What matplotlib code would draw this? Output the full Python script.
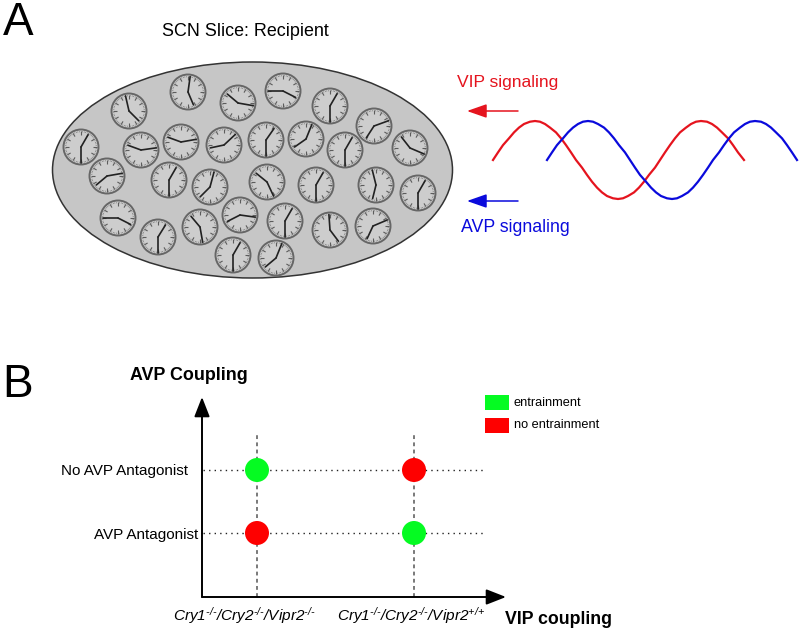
import matplotlib
matplotlib.use("Agg")
import matplotlib.pyplot as plt
import numpy as np
from matplotlib.collections import LineCollection
from matplotlib.patches import Circle, Ellipse, Rectangle
from matplotlib.transforms import ScaledTranslation

plt.rcParams["font.family"] = ["Liberation Sans", "DejaVu Sans"]
plt.rcParams["mathtext.fontset"] = "custom"
plt.rcParams["mathtext.rm"] = "Liberation Sans:italic"
plt.rcParams["mathtext.it"] = "Liberation Sans:italic"
plt.rcParams["mathtext.bf"] = "Liberation Sans:bold"

# clocks, in pixels of the picture, hands in degrees clockwise from 12
clock_x = [188, 129, 238, 81, 141, 181, 224, 107, 169, 210,
           283, 330, 374, 266, 306, 345, 410, 267, 316, 376, 418,
           118, 158, 200, 240, 285, 330, 373, 233, 276]
clock_y = [92, 111, 103, 147, 150, 142, 145, 176, 180, 187,
           91, 106, 126, 140, 139, 150, 148, 182, 185, 185, 193,
           218, 237, 227, 215, 221, 230, 226, 255, 258]
hand_a = [157, 135, 310, 30, 290, 290, 258, 230, 30, 225,
          117, 30, 213, 35, 235, 30, 322, 309, 30, 194, 30,
          117, 32, 320, 243, 30, 143, 205, 30, 230]
hand_b = [8, 347, 100, 180, 82, 80, 47, 80, 180, 15,
          270, 180, 70, 180, 22, 180, 113, 155, 180, 346, 180,
          270, 180, 170, 98, 180, 356, 67, 180, 22]

# signal curves
red_x = [493, 498, 503, 509, 514, 519, 524, 530, 535, 540, 545, 550, 556, 561, 566, 571, 576,
         582, 587, 592, 597, 602, 607, 613, 618, 623, 628, 634, 639, 644, 649, 655, 660,
         665, 670, 675, 680, 686, 691, 696, 701, 707, 712, 717, 722, 728, 733, 738, 744]
blue_x = [547, 552, 557, 563, 568, 573, 578, 583, 588, 593, 598, 604, 609, 614, 619, 625, 630,
          635, 640, 646, 651, 656, 661, 667, 672, 677, 682, 688, 693, 698, 703, 708, 713,
          719, 724, 729, 734, 740, 745, 750, 755, 761, 766, 771, 776, 782, 787, 792, 797]
wave_y = [160, 152.4, 145.1, 138.3, 132.4, 127.6, 124, 121.7, 121, 121.7, 124, 127.6, 132.4, 138.3, 145.1, 152.4, 160,
          167.6, 174.9, 181.7, 187.6, 192.4, 196, 198.3, 199, 198.3, 196, 192.4, 187.6, 181.7, 174.9, 167.6, 160,
          152.4, 145.1, 138.3, 132.4, 127.6, 124, 121.7, 121, 121.7, 124, 127.6, 132.4, 138.3, 145.1, 152.4, 160]

# panel B
genotypes = [r"$\mathit{Cry1}^{\text{-/-}}\mathit{/Cry2}^{\text{-/-}}\mathit{/Vipr2}^{\text{-/-}}$",
             r"$\mathit{Cry1}^{\text{-/-}}\mathit{/Cry2}^{\text{-/-}}\mathit{/Vipr2}^{\text{+/+}}$"]
conditions = ["AVP Antagonist", "No AVP Antagonist"]
point_x = [0, 1, 0, 1]
point_y = [1, 1, 0, 0]
entrained = [True, False, False, True]

GREEN = "#05fb22"
RED = "#fe0000"
RED_LINE = "#e5141e"
BLUE_LINE = "#0a0adc"

fig = plt.figure(figsize=(8, 6.3), dpi=100)

bg = fig.add_axes([0, 0, 1, 1])
bg.set_xlim(0, 800)
bg.set_ylim(630, 0)
bg.axis("off")

bg.text(3, 35, "A", fontsize=33, va="baseline")
bg.text(2, 397, "B", fontsize=33, va="baseline")
bg.text(245.5, 32, "SCN Slice: Recipient", fontsize=12.85, ha="center", va="center")

bg.add_patch(Ellipse((252.5, 170), 400, 216, fc="#c6c6c6", ec="#333333", lw=1.1))

# clock faces
theta = np.deg2rad(np.arange(0, 360, 6))
for cx, cy, a, b in zip(clock_x, clock_y, hand_a, hand_b):
    bg.add_patch(Circle((cx, cy), 17.5, fc="#cdcdcd", ec="#666666", lw=1.4, zorder=3))
    segs = []
    widths = []
    for i, t in enumerate(theta):
        r0 = 12 if i % 5 == 0 else 14.8
        r1 = 15.8
        segs.append([(cx + r0 * np.sin(t), cy - r0 * np.cos(t)),
                     (cx + r1 * np.sin(t), cy - r1 * np.cos(t))])
        widths.append(0.8 if i % 5 == 0 else 0.4)
    bg.add_collection(LineCollection(segs, colors="#5c5c5c", linewidths=widths, zorder=4))
    for ang, length, lw in [(a, 14, 1.2), (b, 15.5, 1.2)]:
        rad = np.deg2rad(ang)
        bg.plot([cx, cx + length * np.sin(rad)], [cy, cy - length * np.cos(rad)],
                color="#222222", lw=lw, solid_capstyle="round", zorder=5)

bg.plot(red_x, wave_y, color=RED_LINE, lw=1.6, zorder=2)
bg.plot(blue_x, wave_y, color=BLUE_LINE, lw=1.6, zorder=3)

bg.text(457, 82, "VIP signaling", color=RED_LINE, fontsize=12.6, va="center")
bg.text(461, 227, "AVP signaling", color=BLUE_LINE, fontsize=12.8, va="center")
for y, col in [(111, RED_LINE), (201, BLUE_LINE)]:
    bg.annotate("", xy=(467, y), xytext=(518, y),
                arrowprops=dict(arrowstyle="-|>,head_length=1.2,head_width=0.42",
                                mutation_scale=10, color=col, lw=1.1,
                                shrinkA=0, shrinkB=0))

# legend of panel B
bg.add_patch(Rectangle((485, 395), 24, 15, fc=GREEN, ec="none"))
bg.add_patch(Rectangle((485, 418), 24, 15, fc=RED, ec="none"))
bg.text(514, 402.5, "entrainment", fontsize=9.2, va="center")
bg.text(514, 425.5, "no entrainment", fontsize=9.2, va="center")

# panel B axes: x=0 at 257 px, x=1 at 414 px; y=0 at 533 px, y=1 at 470 px
ax = fig.add_axes([202 / 800, 1 - 597 / 630, 304 / 800, 200 / 630])
ax.patch.set_alpha(0)
ax.set_xlim(-55 / 157, 249 / 157)
ax.set_ylim(-64 / 63, 136 / 63)
for s in ax.spines.values():
    s.set_visible(False)

ax.set_xticks([0, 1])
ax.set_xticklabels(genotypes, fontsize=11.1)
ax.set_yticks([0, 1])
ax.set_yticklabels(conditions, fontsize=11)
ax.tick_params(length=0)
ax.tick_params(axis="x", pad=6)
ax.tick_params(axis="y", pad=3)
ax.yaxis.get_major_ticks()[1].set_pad(10)

# labels sit left of their ticks, by different amounts
for lab, dx in zip(ax.get_xticklabels(), [-0.13, -0.03]):
    lab.set_transform(lab.get_transform() + ScaledTranslation(dx, 0, fig.dpi_scale_trans))

ax.hlines([0, 1], -54 / 157, 228 / 157, color="#222222", lw=1, linestyles=(0, (1, 3)), zorder=1)
ax.vlines([0, 1], -64 / 63, 98 / 63, color="#555555", lw=1.1, linestyles=(0, (2.5, 2.2)), zorder=1)
ax.scatter(point_x, point_y, s=(24 * 0.72) ** 2, linewidths=0,
           c=[GREEN if e else RED for e in entrained], zorder=3)

ax.annotate("", xy=(0, 1), xytext=(0, 0), xycoords="axes fraction",
            arrowprops=dict(arrowstyle="-|>,head_length=1.2,head_width=0.47",
                            mutation_scale=10, color="black", lw=1.4, shrinkA=0, shrinkB=0))
ax.annotate("", xy=(1, 0), xytext=(0, 0), xycoords="axes fraction",
            arrowprops=dict(arrowstyle="-|>,head_length=1.2,head_width=0.47",
                            mutation_scale=10, color="black", lw=1.4, shrinkA=0, shrinkB=0))

bg.text(188.5, 376, "AVP Coupling", fontsize=12.9, fontweight="bold", ha="center", va="center")
bg.text(558.5, 619, "VIP coupling", fontsize=12.8, fontweight="bold", ha="center", va="center")

fig.savefig("out.png", dpi=100)
